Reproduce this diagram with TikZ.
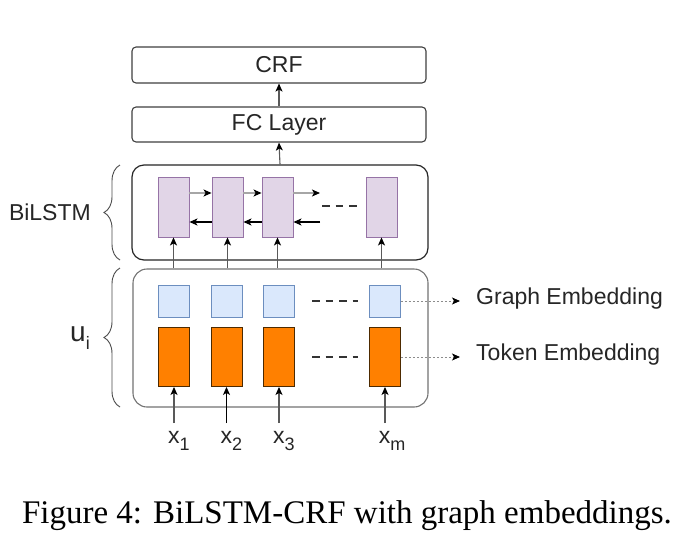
\documentclass[tikz,border=0pt]{standalone}
\usepackage{fontspec}
\setmainfont{Liberation Sans}
\newfontfamily\capfont{Liberation Serif}
\usetikzlibrary{arrows.meta,decorations.pathreplacing}
\definecolor{purfill}{HTML}{E1D5E7}
\definecolor{purdraw}{HTML}{9673A6}
\definecolor{blufill}{HTML}{DAE8FC}
\definecolor{bludraw}{HTML}{6C8EBF}
\definecolor{orgfill}{HTML}{FF8000}
\definecolor{orgdraw}{HTML}{4D2A00}
\newcommand\mysub[1]{\raisebox{-0.55ex}{\fontsize{18}{18}\selectfont #1}}
\tikzset{
  lbl/.style={font=\fontsize{23}{27}\selectfont, text=black!85},
  layerbox/.style={draw=black!75, line width=1.1pt, rounded corners=4pt, minimum width=294pt, inner sep=0pt, lbl},
  purbox/.style={draw=purdraw, fill=purfill, line width=0.9pt, minimum width=31pt, minimum height=60pt, inner sep=0pt},
  blubox/.style={draw=bludraw, fill=blufill, line width=0.9pt, minimum width=31pt, minimum height=32pt, inner sep=0pt},
  orgbox/.style={draw=orgdraw, fill=orgfill, line width=0.9pt, minimum width=31pt, minimum height=59pt, inner sep=0pt},
  tip/.style={-{Stealth[length=8pt,width=7pt,inset=2pt,color=black]}},
  uparr/.style={draw=black!65, line width=1.1pt, tip},
  fwd/.style={draw=black!35, line width=1.2pt, tip},
  bwd/.style={draw=black, line width=1.2pt, tip},
  dotarr/.style={draw=black!45, line width=0.9pt, dash pattern=on 2pt off 2pt, tip},
  dashes/.style={draw=black!80, line width=1.6pt, dash pattern=on 7.5pt off 6pt},
  bracestyle/.style={draw=black!70, line width=0.9pt, decorate, decoration={brace, amplitude=16pt}},
}
\begin{document}
\begin{tikzpicture}[x=1pt,y=-1pt]
\useasboundingbox[fill=white] (0,0) rectangle (690,557);
% top layers
\node[layerbox, minimum height=36pt] (crf) at (279,65) {CRF};
\node[layerbox, minimum height=35pt] (fc) at (279,124.5) {FC Layer};
% containers
\node[draw=black!85, line width=1.2pt, rounded corners=12pt, minimum width=296pt, minimum height=95pt, inner sep=0pt] (bilstm) at (280,212.5) {};
\node[draw=black!55, line width=1.1pt, rounded corners=14pt, minimum width=295pt, minimum height=138pt, inner sep=0pt] (emb) at (280.5,338) {};
% BiLSTM cells
\node[purbox] (p1) at (173.5,207) {};
\node[purbox] (p2) at (227.5,207) {};
\node[purbox] (p3) at (277.5,207) {};
\node[purbox] (p4) at (381.5,207) {};
% embeddings
\node[blubox] (b1) at (174,301) {};
\node[blubox] (b2) at (226.5,301) {};
\node[blubox] (b3) at (279,301) {};
\node[blubox] (b4) at (385,301) {};
\node[orgbox] (o1) at (174,357) {};
\node[orgbox] (o2) at (226.5,357) {};
\node[orgbox] (o3) at (279,357) {};
\node[orgbox] (o4) at (385,357) {};
% inputs
\node[lbl, inner sep=0pt] (x1) at (179,441) {x\mysub{1}};
\node[lbl, inner sep=0pt] (x2) at (231.5,441) {x\mysub{2}};
\node[lbl, inner sep=0pt] (x3) at (284,441) {x\mysub{3}};
\node[lbl, inner sep=0pt] (xm) at (392,441) {x\mysub{m}};
\coordinate (a1) at (174,423);
\coordinate (a2) at (226.5,423);
\coordinate (a3) at (279,423);
\coordinate (am) at (385,423);
\draw[uparr] (a1) -- (o1.south);
\draw[uparr, draw=black] (a2) -- (o2.south);
\draw[uparr] (a3) -- (o3.south);
\draw[uparr] (am) -- (o4.south);
% embeddings to BiLSTM
\draw[uparr] (p1.south |- emb.north) -- (p1.south);
\draw[uparr] (p2.south |- emb.north) -- (p2.south);
\draw[uparr] (p3.south |- emb.north) -- (p3.south);
\draw[uparr] (p4.south |- emb.north) -- (p4.south);
% to FC and CRF
\draw[uparr] (bilstm.north) -- (fc.south);
\draw[uparr] (fc.north) -- (crf.south);
% recurrent arrows
\coordinate (fend) at (320,193);
\coordinate (bstart) at (320,222);
\draw[fwd] (p1.east |- fend) -- (p2.west |- fend);
\draw[fwd] (p2.east |- fend) -- (p3.west |- fend);
\draw[fwd] (p3.east |- fend) -- (fend);
\draw[bwd] (p2.west |- bstart) -- (p1.east |- bstart);
\draw[bwd] (p3.west |- bstart) -- (p2.east |- bstart);
\draw[bwd] (bstart) -- (p3.east |- bstart);
% ellipses
\coordinate (d1s) at (322,206); \coordinate (d1e) at (358,206);
\coordinate (d2s) at (312,301); \coordinate (d2e) at (358,301);
\coordinate (d3s) at (312,357); \coordinate (d3e) at (358,357);
\draw[dashes] (d1s) -- (d1e);
\draw[dashes] (d2s) -- (d2e);
\draw[dashes] (d3s) -- (d3e);
% legend
\coordinate (g1) at (460,301);
\coordinate (g2) at (460,357);
\draw[dotarr] (b4.east) -- (g1);
\draw[dotarr] (o4.east) -- (g2);
\node[lbl, anchor=west, inner sep=0pt] (gt) at (476,299) {Graph Embedding};
\node[lbl, anchor=west, inner sep=0pt] (tt) at (476,355) {Token Embedding};
% braces
\coordinate (br1a) at (120,260); \coordinate (br1b) at (120,165);
\coordinate (br2a) at (120,407); \coordinate (br2b) at (120,268);
\draw[bracestyle] (br1a) -- (br1b);
\draw[bracestyle] (br2a) -- (br2b);
\node[lbl, anchor=east, inner sep=0pt] (bl) at (91,212) {BiLSTM};
\node[lbl, anchor=east, inner sep=0pt, font=\fontsize{28}{30}\selectfont] (ui) at (90,338) {u\mysub{i}};
% caption
\node[inner sep=0pt, font=\capfont\fontsize{33}{38}\selectfont] (cap) at (347,516) {Figure 4: BiLSTM-CRF with graph embeddings.};
\end{tikzpicture}
\end{document}
